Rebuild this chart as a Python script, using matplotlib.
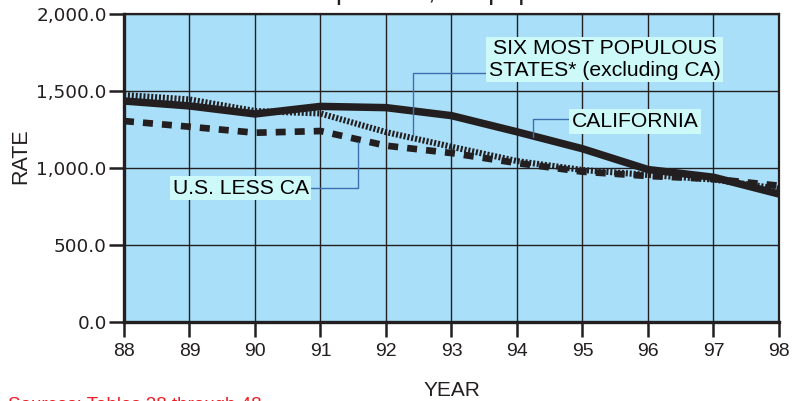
import matplotlib
matplotlib.use("Agg")
import matplotlib.pyplot as plt
from matplotlib.ticker import FuncFormatter

years = [88, 89, 90, 91, 92, 93, 94, 95, 96, 97, 98]
california = [1435, 1403, 1351, 1400, 1392, 1340, 1235, 1125, 990, 940, 831]
six_states = [1474, 1445, 1370, 1354, 1233, 1138, 1045, 987, 955, 925, 865]
us_less_ca = [1305, 1268, 1229, 1240, 1145, 1097, 1032, 976, 948, 929, 885]
y_ticks = [0, 500, 1000, 1500, 2000]

plt.rcParams['lines.scale_dashes'] = False
INK = '#231f20'
BG = '#aadff9'
BOX = '#cdf9f9'
LEAD = '#3d6fb0'

fig = plt.figure(figsize=(7.93, 4.01), dpi=100)
ax = fig.add_axes([124 / 793, (401 - 322) / 401, 655 / 793, 308 / 401])
ax.set_facecolor(BG)
ax.set_xlim(88, 98)
ax.set_ylim(0, 2000)
ax.set_xticks(years)
ax.set_xticklabels([str(y) for y in years])
ax.set_yticks(y_ticks)
ax.yaxis.set_major_formatter(FuncFormatter(lambda v, p: f"{v:,.1f}"))

ax.grid(True, color=INK, linewidth=1.0)
ax.set_axisbelow(True)

for s in ['left', 'bottom']:
    ax.spines[s].set_linewidth(2.4)
    ax.spines[s].set_color(INK)
for s in ['top', 'right']:
    ax.spines[s].set_linewidth(1.6)
    ax.spines[s].set_color(INK)

ax.tick_params(axis='y', length=11, width=1.8, color=INK, pad=1.5,
               labelsize=13.3, labelcolor=INK)
ax.tick_params(axis='x', length=11, width=1.8, color=INK, pad=4,
               labelsize=14, labelcolor=INK)
for lab in ax.get_yticklabels():
    lab.set_family('DejaVu Sans')
for lab in ax.get_xticklabels():
    lab.set_family('Liberation Sans')

ax.plot(years, us_less_ca, color=INK, linewidth=4.8, dashes=(7.2, 6.5),
        solid_capstyle='butt', dash_capstyle='butt', clip_on=False, zorder=3)
ax.plot(years, six_states, color=INK, linewidth=4.4, dashes=(1.5, 1.3),
        dash_capstyle='butt', clip_on=False, zorder=4)
ax.plot(years, california, color=INK, linewidth=5.4, solid_capstyle='butt',
        solid_joinstyle='miter', clip_on=False, zorder=5)

bbox = dict(boxstyle='square,pad=0.12', facecolor=BOX, edgecolor='none')

ax.annotate("SIX MOST POPULOUS\nSTATES* (excluding CA)",
            xy=(92.41, 1215), xytext=(95.34, 1704),
            ha='center', va='center', fontsize=15.2, family='Liberation Sans',
            color='black', linespacing=1.15, bbox=bbox, zorder=6,
            arrowprops=dict(arrowstyle='-', color=LEAD, linewidth=1.0,
                            connectionstyle='angle,angleA=180,angleB=90,rad=0',
                            relpos=(0, 0.16), shrinkA=0, shrinkB=0))

ax.annotate("CALIFORNIA",
            xy=(94.24, 1200), xytext=(95.80, 1302),
            ha='center', va='center', fontsize=15.2, family='Liberation Sans',
            color='black', bbox=bbox, zorder=6,
            arrowprops=dict(arrowstyle='-', color=LEAD, linewidth=1.0,
                            connectionstyle='angle,angleA=180,angleB=90,rad=0',
                            relpos=(0, 0.65), shrinkA=0, shrinkB=0))

ax.annotate("U.S. LESS CA",
            xy=(91.57, 1169), xytext=(89.78, 870),
            ha='center', va='center', fontsize=15.2, family='Liberation Sans',
            color='black', bbox=bbox, zorder=6,
            arrowprops=dict(arrowstyle='-', color=LEAD, linewidth=1.0,
                            connectionstyle='angle,angleA=0,angleB=90,rad=0',
                            relpos=(1, 0.5), shrinkA=0, shrinkB=0))

fig.text(21 / 793, 1 - 156 / 401, "RATE", rotation=90, ha='center', va='center',
         fontsize=15.5, family='Liberation Sans', color=INK)
fig.text(452 / 793, 1 - 396 / 401, "YEAR", ha='center', va='baseline',
         fontsize=15, family='Liberation Sans', color=INK)

# cropped title and source note (only edges visible, as in the reference)
fig.text(442 / 793, 1 + 1 / 401, "Rate per 100,000 population", ha='center',
         va='baseline', fontsize=19.5, family='Liberation Sans', color=INK)
fig.text(8 / 793, -8.5 / 401, "Sources: Tables 38 through 48", ha='left',
         va='baseline', fontsize=13.5, family='Liberation Sans', color='#ee1c24')

fig.savefig("out.png", dpi=100)
